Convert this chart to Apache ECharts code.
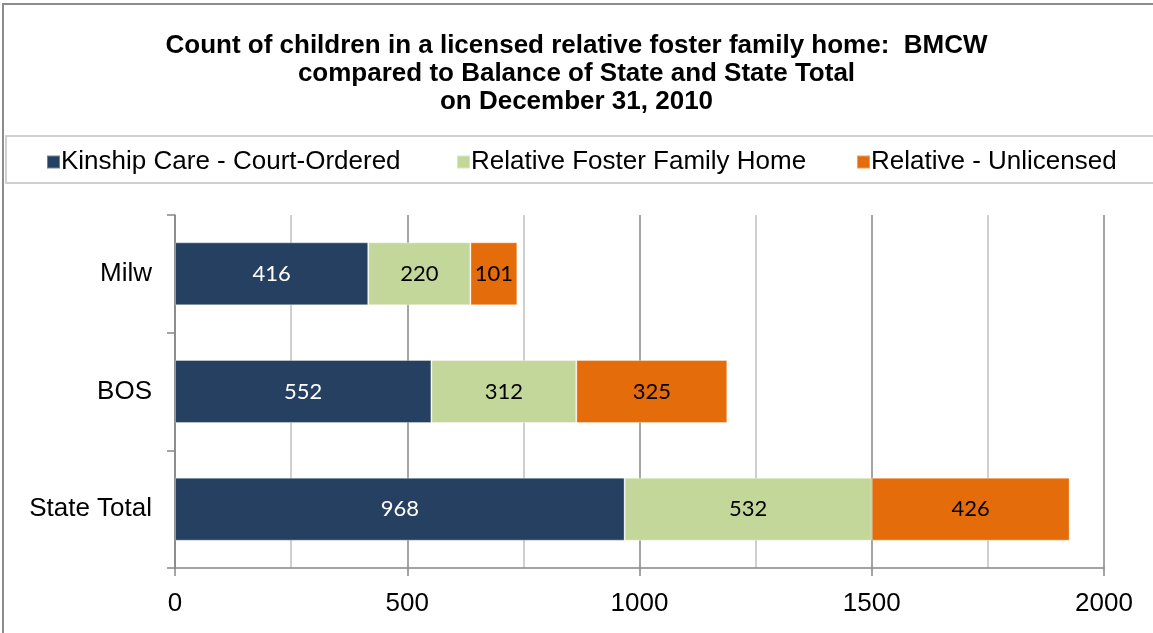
<!DOCTYPE html>
<html>
<head>
<meta charset="utf-8">
<script src="https://cdn.jsdelivr.net/npm/echarts@6/dist/echarts.min.js"></script>
<style>
  html, body { margin: 0; padding: 0; background: #fff; }
  #chart { width: 1153px; height: 633px; }
</style>
</head>
<body>
<div id="chart"></div>
<script>
const categories = ['Milw', 'BOS', 'State Total'];
const seriesNames = ['Kinship Care - Court-Ordered', 'Relative Foster Family Home', 'Relative - Unlicensed'];
const kinship = [416, 552, 968];
const relativeFoster = [220, 312, 532];
const unlicensed = [101, 325, 426];
const xTicks = [0, 500, 1000, 1500, 2000];

const colors = ['#264061', '#C4D79B', '#E46C0A'];
const labelColors = ['#ffffff', '#000000', '#000000'];
const values = [kinship, relativeFoster, unlicensed];
const legendLeft = [41, 451, 851];

const FONT = 'Liberation Sans, Arial, sans-serif';
const chart = echarts.init(document.getElementById('chart'));

const option = {
  animation: false,
  title: {
    text: 'Count of children in a licensed relative foster family home:  BMCW\ncompared to Balance of State and State Total\non December 31, 2010',
    left: 'center',
    top: 27,
    textStyle: {
      fontFamily: FONT,
      fontSize: 26,
      fontWeight: 'bold',
      color: '#000',
      lineHeight: 28
    }
  },
  graphic: [
    {
      type: 'rect',
      shape: { x: 3, y: 4, width: 1200, height: 700 },
      style: { fill: 'none', stroke: '#8c8c8c', lineWidth: 2 },
      silent: true
    },
    {
      type: 'rect',
      shape: { x: 6, y: 136, width: 1200, height: 47 },
      style: { fill: 'none', stroke: '#d0d0d0', lineWidth: 2 },
      silent: true
    }
  ],
  // one legend per item so each can sit where the original puts it
  legend: seriesNames.map((name, i) => ({
    top: 144,
    left: legendLeft[i],
    itemWidth: 13,
    itemHeight: 13,
    icon: 'rect',
    textStyle: {
      fontFamily: FONT,
      fontSize: 26,
      color: '#000',
      padding: [0, 0, 0, -4]
    },
    data: [name]
  })),
  grid: { left: 175, right: 49, top: 215, bottom: 65 },
  xAxis: {
    type: 'value',
    min: xTicks[0],
    max: xTicks[xTicks.length - 1],
    interval: 500,
    axisLine: { show: true, lineStyle: { color: '#868686', width: 1.5 } },
    axisTick: { show: true, length: 8, lineStyle: { color: '#868686', width: 1.5 } },
    minorTick: { show: true, splitNumber: 2, length: 0 },
    minorSplitLine: { show: true, lineStyle: { color: '#c0c0c0', width: 1.5 } },
    splitLine: { show: true, lineStyle: { color: '#868686', width: 1.5 } },
    axisLabel: {
      margin: 23,
      fontFamily: FONT,
      fontSize: 26,
      color: '#000',
      formatter: (v) => String(v)
    }
  },
  yAxis: {
    type: 'category',
    inverse: true,
    data: categories,
    axisLine: { show: true, lineStyle: { color: '#868686', width: 1.5 } },
    axisTick: { show: true, length: 8, lineStyle: { color: '#868686', width: 1.5 } },
    axisLabel: {
      margin: 23,
      fontFamily: FONT,
      fontSize: 26,
      color: '#000'
    }
  },
  series: seriesNames.map((name, i) => ({
    name: name,
    type: 'bar',
    stack: 'total',
    barWidth: 63,
    data: values[i],
    itemStyle: { color: colors[i], borderColor: 'rgba(255,255,255,0.35)', borderWidth: 1 },
    label: {
      show: true,
      position: 'inside',
      fontFamily: 'Lato, Open Sans, sans-serif',
      fontSize: 22,
      color: labelColors[i]
    }
  }))
};

chart.setOption(option);
</script>
</body>
</html>
